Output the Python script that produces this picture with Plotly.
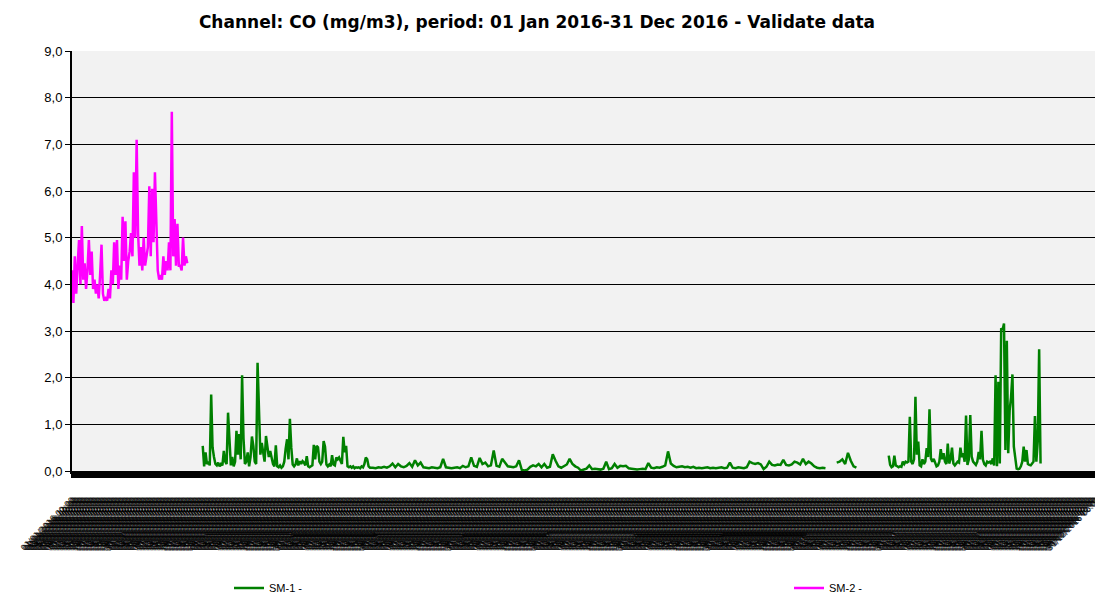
import pandas as pd
import plotly.graph_objects as go

TITLE = "Channel: CO (mg/m3), period: 01 Jan 2016-31 Dec 2016 - Validate data"

# SM-2 (magenta): 12-hourly values from 2016-01-01 00:00
SM2_START = "2016-01-01 00:00"
SM2_VALUES = [
    4.3, 3.6, 4.6, 3.8, 4.4, 4.95, 4.0, 5.25, 4.1, 4.45,
    3.9, 4.3, 4.95, 4.2, 4.7, 3.9, 4.1, 3.8, 4.0, 3.7,
    4.2, 4.85, 3.8, 3.65, 3.7, 3.65, 3.9, 3.7, 4.3, 4.0,
    4.9, 4.2, 4.95, 3.9, 4.4, 4.1, 5.45, 4.5, 5.35, 4.1,
    4.5, 4.7, 5.1, 4.6, 6.4, 5.0, 7.1, 5.1, 4.4, 4.8,
    4.3, 5.0, 4.4, 4.6, 4.8, 6.1, 4.6, 6.05, 4.9, 6.4,
    5.1, 4.3, 4.1, 4.2, 4.1, 4.6, 4.2, 4.5, 4.3, 4.9,
    4.3, 7.7, 4.6, 5.4, 4.4, 5.3, 4.4, 4.4, 4.3, 5.0,
    4.4, 4.6, 4.45,
]

# SM-1 (green), part A1: 12-hourly values from 2016-02-16 12:00
SM1_A1_START = "2016-02-16 12:00"
SM1_A1_VALUES = [
    0.54, 0.10, 0.40, 0.15, 0.20, 0.12, 1.64, 0.50, 0.30, 0.15,
    0.12, 0.18, 0.10, 0.15, 0.12, 0.43, 0.20, 0.15, 1.25, 0.50,
    0.12, 0.30, 0.10, 0.20, 0.86, 0.35, 0.79, 0.25, 2.05, 0.70,
    0.15, 0.20, 0.40, 0.10, 0.30, 0.74, 0.54, 0.20, 0.15, 2.32,
    1.02, 0.35, 0.60, 0.43, 0.20, 0.75, 0.50, 0.30, 0.43, 0.25,
    0.15, 0.10, 0.55, 0.10, 0.08, 0.12, 0.07, 0.10, 0.20, 0.48,
    0.68, 0.25, 1.12, 0.50, 0.14, 0.10, 0.14, 0.27, 0.12, 0.21,
    0.15, 0.21, 0.18, 0.12, 0.32, 0.10, 0.08, 0.10, 0.12, 0.56,
    0.25, 0.54, 0.51, 0.20, 0.15, 0.20, 0.64, 0.52, 0.14, 0.10,
    0.14, 0.10, 0.34, 0.14, 0.12, 0.29, 0.25, 0.29, 0.22, 0.15,
    0.73, 0.40, 0.54, 0.10, 0.08, 0.10, 0.07, 0.10, 0.06, 0.08,
    0.07, 0.08, 0.06, 0.10, 0.08, 0.15, 0.29, 0.25, 0.10, 0.07,
]

# SM-1 (green), part A2: daily values from 2016-04-17
SM1_A2_START = "2016-04-17 00:00"
SM1_A2_VALUES = [
    0.07, 0.06, 0.08, 0.07, 0.09, 0.07, 0.10, 0.16, 0.08, 0.15,
    0.10, 0.08, 0.11, 0.17, 0.09, 0.23, 0.12, 0.18, 0.08, 0.07,
    0.06, 0.08, 0.07, 0.06, 0.08, 0.26, 0.08, 0.07, 0.06, 0.07,
    0.08, 0.06, 0.11, 0.08, 0.10, 0.29, 0.11, 0.09, 0.28, 0.15,
    0.18, 0.10, 0.12, 0.44, 0.11, 0.09, 0.26, 0.18, 0.10, 0.09,
    0.08, 0.10, 0.23, 0.02, 0.01, 0.03, 0.09, 0.12, 0.10, 0.15,
    0.08, 0.15, 0.07, 0.09, 0.36, 0.22, 0.10, 0.07, 0.11, 0.14,
    0.26, 0.15, 0.10, 0.07, 0.01, 0.03, 0.05, 0.12, 0.04, 0.05,
    0.04, 0.03, 0.05, 0.20, 0.04, 0.06, 0.15, 0.07, 0.11, 0.10,
    0.11, 0.06, 0.05, 0.04, 0.03, 0.04, 0.05, 0.04, 0.17, 0.07,
    0.06, 0.08, 0.07, 0.09, 0.12, 0.42, 0.16, 0.11, 0.08, 0.09,
    0.10, 0.08, 0.09, 0.07, 0.09, 0.06, 0.07, 0.06, 0.07, 0.08,
    0.06, 0.07, 0.06, 0.07, 0.08, 0.06, 0.07, 0.18, 0.07, 0.06,
    0.08, 0.07, 0.06, 0.08, 0.20, 0.17, 0.15, 0.17, 0.14, 0.04,
    0.09, 0.20, 0.13, 0.12, 0.14, 0.13, 0.24, 0.13, 0.12, 0.14,
    0.20, 0.18, 0.14, 0.26, 0.15, 0.20, 0.16, 0.10, 0.07, 0.06,
    0.07, 0.06, None, None, None, 0.18, 0.20, 0.25, 0.15, 0.39,
    0.22, 0.10, 0.07,
]

# SM-1 (green), part B: 12-hourly values from 2016-10-17 12:00
SM1_B_START = "2016-10-17 12:00"
SM1_B_VALUES = [
    0.33, 0.13, 0.08, 0.10, 0.33, 0.12, 0.10, 0.08, 0.10, 0.09,
    0.20, 0.15, 0.20, 0.18, 0.20, 1.16, 0.20, 0.15, 0.25, 1.59,
    0.35, 0.63, 0.12, 0.10, 0.25, 0.15, 0.20, 0.49, 0.30, 1.32,
    0.27, 0.20, 0.26, 0.15, 0.10, 0.12, 0.20, 0.47, 0.25, 0.38,
    0.20, 0.15, 0.59, 0.16, 0.25, 0.50, 0.16, 0.12, 0.15, 0.20,
    0.18, 0.50, 0.30, 0.38, 0.20, 1.19, 0.13, 0.25, 1.20, 0.31,
    0.20, 0.15, 0.13, 0.20, 0.41, 0.25, 0.86, 0.24, 0.15, 0.12,
    0.20, 0.18, 0.20, 0.15, 0.27, 0.12, 2.05, 0.10, 1.91, 0.16,
    3.06, 3.02, 3.16, 0.45, 2.79, 0.38, 1.30, 1.58, 2.07, 0.52,
    0.31, 0.05, 0.04, 0.05, 0.10, 0.20, 0.52, 0.20, 0.45, 0.15,
    0.13, 0.12, 0.16, 0.20, 1.18, 0.20, 0.63, 2.61, 0.16,
]

Y_TICKS = [0, 1, 2, 3, 4, 5, 6, 7, 8, 9]
X_TICK_TIMES = pd.date_range("2016-01-01 00:00", "2016-12-31 12:00", freq="12h")
X_TICK_TEXT = [d.strftime("%d/%m/%Y %H:%M") for d in X_TICK_TIMES]

# build x positions
sm2_x = list(pd.date_range(SM2_START, periods=len(SM2_VALUES), freq="12h"))
a1_x = list(pd.date_range(SM1_A1_START, periods=len(SM1_A1_VALUES), freq="12h"))
a2_x = list(pd.date_range(SM1_A2_START, periods=len(SM1_A2_VALUES), freq="D"))
b_x = list(pd.date_range(SM1_B_START, periods=len(SM1_B_VALUES), freq="12h"))

sm1_x = a1_x + a2_x + [pd.Timestamp("2016-10-12")] + b_x
sm1_y = SM1_A1_VALUES + SM1_A2_VALUES + [None] + SM1_B_VALUES

# the page body has an 8px margin, so the figure is drawn 8px in from the top-left
W, H = 1095, 587

fig = go.Figure()
fig.add_trace(go.Scatter(
    x=sm1_x, y=sm1_y, mode="lines", name="SM-1 -",
    line=dict(color="#008000", width=2.5), connectgaps=False, legend="legend",
))
fig.add_trace(go.Scatter(
    x=sm2_x, y=SM2_VALUES, mode="lines", name="SM-2 -",
    line=dict(color="#FF00FF", width=2.5), connectgaps=False, legend="legend2",
))

fig.update_layout(
    width=W, height=H,
    margin=dict(l=64, r=2, t=43, b=124, autoexpand=False),
    paper_bgcolor="white",
    plot_bgcolor="#F2F2F2",
    separators=", ",
    title=dict(
        text="<b>" + TITLE + "</b>",
        x=529 / W, xref="container", xanchor="center",
        y=1 - 14 / H, yref="container", yanchor="middle",
        font=dict(family="DejaVu Sans", size=17, color="black"),
    ),
    font=dict(family="Liberation Sans, Arial", color="black"),
    legend=dict(
        x=221 / W, xref="container", xanchor="left",
        y=1 - 580 / H, yref="container", yanchor="middle",
        font=dict(size=11, family="Liberation Sans, Arial"),
        bgcolor="rgba(0,0,0,0)",
    ),
    legend2=dict(
        x=781 / W, xref="container", xanchor="left",
        y=1 - 580 / H, yref="container", yanchor="middle",
        font=dict(size=11, family="Liberation Sans, Arial"),
        bgcolor="rgba(0,0,0,0)",
    ),
    showlegend=True,
)

fig.update_yaxes(
    range=[0, 9], tickvals=Y_TICKS, tickformat=".1f",
    showgrid=True, gridcolor="black", gridwidth=1,
    showline=True, linecolor="black", linewidth=2,
    ticks="outside", ticklen=5, tickcolor="black", tickwidth=1,
    tickfont=dict(size=13, family="Liberation Sans, Arial", color="black"),
    zeroline=False, automargin=False,
)
fig.update_xaxes(
    type="date",
    range=["2016-01-01 00:00", "2017-01-01 00:00"],
    tickmode="array", tickvals=list(X_TICK_TIMES), ticktext=X_TICK_TEXT,
    tickangle=-45,
    tickfont=dict(size=8, family="DejaVu Sans", color="black"),
    showgrid=False,
    showline=True, linecolor="black", linewidth=3,
    ticks="outside", ticklen=4, tickcolor="black", tickwidth=2,
    ticklabelstandoff=14,
    zeroline=False, automargin=False,
)

fig.write_html("out.html")
